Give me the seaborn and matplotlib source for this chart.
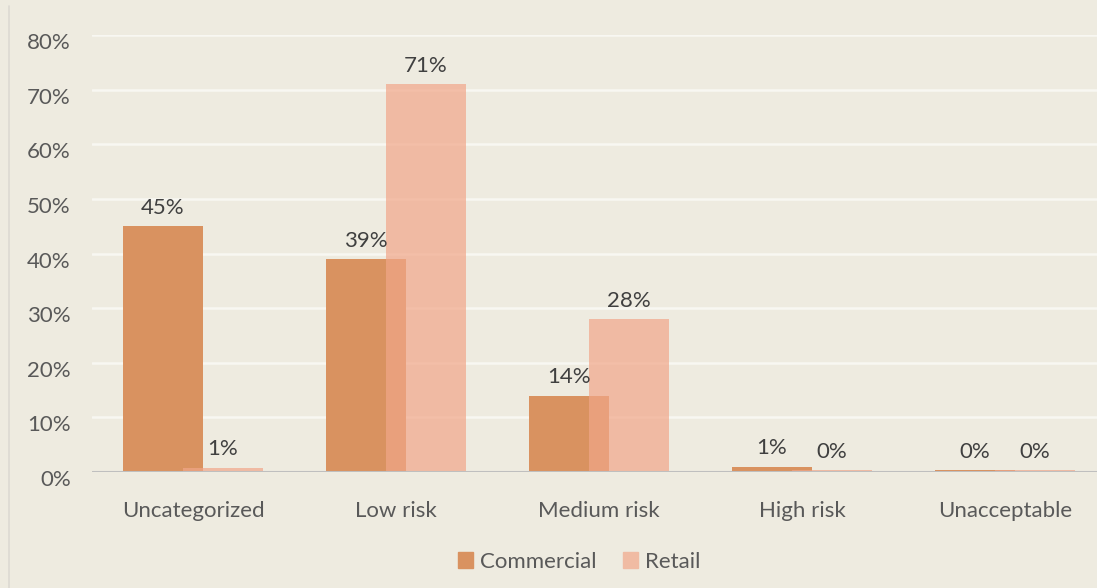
import matplotlib

matplotlib.use("Agg")
import matplotlib.pyplot as plt
from matplotlib.lines import Line2D
from matplotlib.patches import Patch
from matplotlib.transforms import ScaledTranslation
import numpy as np
import seaborn as sns

categories = ["Uncategorized", "Low risk", "Medium risk", "High risk", "Unacceptable"]
commercial = [45, 39, 14, 1.0, 0.3]
retail = [0.8, 71, 28, 0.35, 0.35]
commercial_labels = ["45%", "39%", "14%", "1%", "0%"]
retail_labels = ["1%", "71%", "28%", "0%", "0%"]
y_ticks = [0, 10, 20, 30, 40, 50, 60, 70, 80]

BG = "#EEEBE0"
C_COM = "#D99260"
C_RET = "#F1A689"
TXT = "#595959"

sns.set_theme(style="white")
plt.rcParams["font.family"] = ["Lato", "DejaVu Sans"]

W, H = 1097, 588
fig = plt.figure(figsize=(W / 100, H / 100), dpi=100, facecolor=BG)
ax = fig.add_axes([91.5 / W, 116 / H, 1015 / W, 437 / H])
ax.set_facecolor(BG)

pos = np.arange(len(categories))
off = 0.148

sns.barplot(x=pos - off, y=commercial, native_scale=True, width=0.395,
            color=C_COM, saturation=1, linewidth=0, ax=ax, zorder=3)
sns.barplot(x=pos + off, y=retail, native_scale=True, width=0.395,
            color=C_RET, saturation=1, alpha=0.7, linewidth=0, ax=ax, zorder=4)

for x, v, t in zip(pos - off, commercial, commercial_labels):
    ax.annotate(t, (x, v), xytext=(0, 6), textcoords="offset points",
                ha="center", va="bottom", fontsize=16, color="#404040", zorder=5)
for x, v, t in zip(pos + off, retail, retail_labels):
    ax.annotate(t, (x, v), xytext=(0, 6), textcoords="offset points",
                ha="center", va="bottom", fontsize=16, color="#404040", zorder=5)

ax.set_ylim(0, 80)
ax.set_xlim(-0.5, 4.5)
ax.set_yticks(y_ticks)
ax.set_yticklabels([f"{t}%" for t in y_ticks])
ax.set_xticks(pos)
ax.set_xticklabels(categories)
ax.tick_params(axis="y", length=0, pad=15, labelsize=16, labelcolor=TXT)
ax.tick_params(axis="x", length=0, pad=21, labelsize=16, labelcolor=TXT)
# y labels sit a little below their gridlines in the original
shift = ScaledTranslation(0, -6 / 100, fig.dpi_scale_trans)
for lab in ax.get_yticklabels():
    lab.set_transform(lab.get_transform() + shift)
for t in y_ticks[1:]:
    ax.axhline(t, color="#F8F7F2", lw=1.8, zorder=1)
ax.axhline(0, color="#BFBFBF", lw=2.2, zorder=6)
for s in ax.spines.values():
    s.set_visible(False)
ax.set_xlabel("")
ax.set_ylabel("")

fig.add_artist(Line2D([9 / W, 9 / W], [0, 1 - 6 / H],
                      transform=fig.transFigure, color="#DCDAD2", lw=1.2))

handles = [Patch(color=C_COM, label="Commercial"),
           Patch(color="#F0BBA3", label="Retail")]
fig.legend(handles=handles, loc="center", bbox_to_anchor=(579 / W, 1 - 562 / H),
           ncol=2, frameon=False, fontsize=16, labelcolor=TXT,
           handlelength=0.7, handleheight=0.7, handletextpad=0.3, columnspacing=1.2)

fig.savefig("out.png", dpi=100, facecolor=BG)
